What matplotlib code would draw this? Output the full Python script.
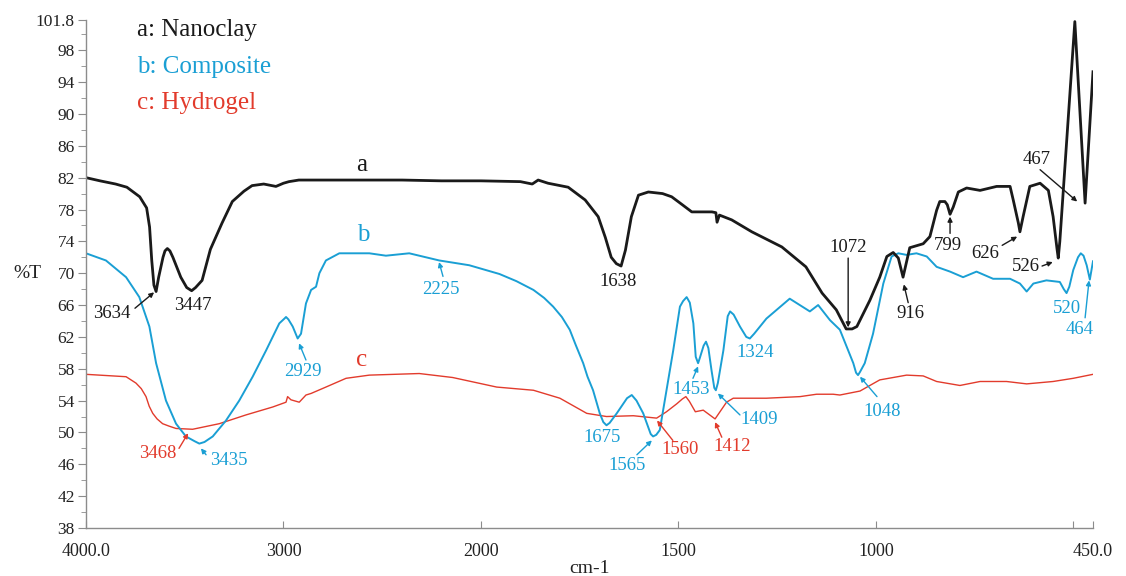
import numpy as np
import matplotlib
matplotlib.use("Agg")
import matplotlib.pyplot as plt
from matplotlib.ticker import FixedLocator, FixedFormatter

plt.rcParams["font.family"] = ["Liberation Serif", "DejaVu Serif"]

BLACK = "#1a1a1a"
BLUE = "#1a9fd4"
RED = "#e23b2c"

# a: Nanoclay  (wavenumber cm-1, %T)
wn_a = [4000, 3929, 3850, 3793, 3728, 3693, 3678, 3667, 3656, 3645, 3632, 3610,
        3600, 3588, 3575, 3560, 3520, 3490, 3465, 3445, 3412, 3370, 3311, 3259,
        3200, 3159, 3100, 3038, 3000, 2972, 2922, 2800, 2600, 2400, 2200, 2000,
        1900, 1870, 1855, 1830, 1779, 1736, 1703, 1685, 1670, 1657, 1645, 1634,
        1619, 1601, 1576, 1540, 1517, 1490, 1466, 1415, 1405, 1402, 1396, 1365,
        1314, 1238, 1177, 1136, 1100, 1075, 1060, 1048, 1015, 990, 972, 956, 943,
        931, 914, 880, 863, 846, 838, 825, 819, 812, 804, 791, 770, 736, 694, 660,
        652, 639, 635, 627, 610, 584, 563, 551, 541, 538, 534, 496, 470, 450]
t_a = [82.0, 81.6, 81.2, 80.8, 79.6, 78.2, 75.8, 71.6, 68.5, 67.7, 69.5, 72.0,
       72.8, 73.1, 72.8, 72.0, 69.5, 68.2, 67.8, 68.2, 69.1, 73.0, 76.3, 79.0,
       80.3, 81.0, 81.2, 80.9, 81.3, 81.5, 81.7, 81.7, 81.7, 81.7, 81.6, 81.6,
       81.5, 81.2, 81.7, 81.3, 80.8, 79.2, 77.1, 74.5, 72.0, 71.2, 70.9, 72.9,
       77.1, 79.8, 80.2, 80.0, 79.6, 78.6, 77.7, 77.7, 77.6, 76.4, 77.3, 76.7,
       75.2, 73.3, 70.8, 67.5, 65.4, 63.0, 63.0, 63.3, 66.6, 69.5, 72.1, 72.6, 71.9,
       69.5, 73.2, 73.7, 74.6, 77.9, 79.0, 79.0, 78.6, 77.4, 78.3, 80.2, 80.7, 80.4,
       80.9, 80.9, 79.2, 76.3, 75.2, 77.1, 80.9, 81.3, 80.4, 77.1, 73.0, 71.9, 74.0,
       101.6, 78.8, 95.3]

# b: Composite
wn_b = [4000, 3899, 3797, 3730, 3679, 3645, 3595, 3544, 3494, 3450, 3426, 3400,
        3358, 3291, 3224, 3156, 3088, 3021, 2995, 2987, 2975, 2953, 2928, 2911,
        2886, 2860, 2835, 2818, 2785, 2717, 2565, 2481, 2363, 2211, 2059, 1953,
        1910, 1867, 1840, 1817, 1795, 1775, 1760, 1741, 1730, 1716, 1699, 1690,
        1682, 1674, 1656, 1630, 1618, 1606, 1589, 1570, 1564, 1556, 1547, 1530,
        1513, 1496, 1488, 1479, 1471, 1462, 1456, 1450, 1446, 1436, 1430, 1424,
        1416, 1409, 1405, 1400, 1386, 1375, 1369, 1360, 1344, 1328, 1319, 1308,
        1277, 1218, 1167, 1146, 1116, 1091, 1074, 1057, 1050, 1045, 1040, 1028,
        1007, 981, 960, 943, 922, 897, 871, 846, 812, 779, 745, 703, 660, 635,
        618, 601, 568, 534, 524, 517, 510, 500, 488, 481, 474, 466, 458, 450]
t_b = [72.5, 71.6, 69.5, 67.0, 63.3, 58.7, 54.0, 51.1, 49.5, 48.9, 48.6, 48.8,
       49.5, 51.5, 54.0, 57.0, 60.3, 63.7, 64.3, 64.5, 64.2, 63.3, 61.8, 62.4,
       66.2, 67.9, 68.3, 70.0, 71.6, 72.5, 72.5, 72.2, 72.5, 71.6, 71.0, 69.9,
       69.0, 67.9, 66.9, 65.8, 64.5, 62.9, 61.0, 58.7, 57.0, 55.3, 52.4, 51.3,
       50.9, 51.2, 52.4, 54.3, 54.7, 54.0, 52.4, 49.8, 49.5, 49.7, 50.3, 55.3,
       60.3, 65.8, 66.5, 67.0, 66.3, 63.7, 59.5, 58.7, 59.3, 60.9, 61.4, 60.6,
       57.8, 55.6, 55.3, 56.2, 60.3, 64.6, 65.2, 64.8, 63.3, 62.0, 61.8, 62.4,
       64.3, 66.8, 65.2, 66.0, 64.1, 62.9, 60.8, 58.7, 57.5, 57.2, 57.6, 58.7,
       62.4, 68.7, 72.1, 72.5, 72.3, 72.5, 72.1, 70.8, 70.2, 69.5, 70.2, 69.3, 69.3, 68.7,
       67.7, 68.7, 69.1, 68.9, 68.0, 67.5, 68.3, 70.4, 72.0, 72.5, 72.2, 71.0, 69.2, 71.5]

# c: Hydrogel
wn_c = [4000, 3797, 3747, 3720, 3696, 3680, 3662, 3640, 3612, 3580, 3544, 3460,
        3325, 3190, 3054, 2987, 2979, 2962, 2920, 2886, 2860, 2785, 2683, 2565,
        2312, 2143, 1960, 1867, 1800, 1732, 1682, 1614, 1555, 1530, 1504, 1490,
        1481, 1472, 1457, 1437, 1407, 1378, 1361, 1277, 1192, 1150, 1108, 1091,
        1040, 990, 922, 880, 846, 787, 736, 669, 618, 551, 500, 450]
t_c = [57.3, 57.0, 56.2, 55.5, 54.5, 53.3, 52.4, 51.7, 51.1, 50.8, 50.5, 50.4,
       51.1, 52.2, 53.2, 53.8, 54.5, 54.1, 53.8, 54.7, 54.9, 55.7, 56.8, 57.2,
       57.4, 56.9, 55.7, 55.3, 54.3, 52.4, 52.0, 52.1, 51.8, 52.6, 53.6, 54.2,
       54.5, 53.9, 52.6, 52.8, 51.7, 53.8, 54.3, 54.3, 54.5, 54.8, 54.8, 54.7,
       55.2, 56.6, 57.2, 57.1, 56.4, 55.9, 56.4, 56.4, 56.1, 56.4, 56.8, 57.3]

# peak labels: (text, text_xy, arrow_tail, arrow_tip or None, colour)
peaks = [
    ("3634", (3868, 65.0), (3752, 65.6), (3655, 67.6), BLACK),
    ("3447", (3458, 66.0), None, None, BLACK),
    ("1638", (1653, 68.9), None, None, BLACK),
    ("1072", (1070, 73.2), (1070, 71.9), (1070, 63.2), BLACK),
    ("916", (913, 64.9), (918, 66.3), (929, 68.6), BLACK),
    ("799", (817, 73.5), (812, 75.0), (812, 77.1), BLACK),
    ("626", (723, 72.5), (680, 73.5), (642, 74.6), BLACK),
    ("526", (620, 70.9), (579, 70.9), (552, 71.4), BLACK),
    ("467", (592, 84.3), (584, 83.0), (490, 79.0), BLACK),
    ("2225", (2202, 67.9), (2192, 69.6), (2212, 71.4), BLUE),
    ("2929", (2901, 57.7), (2886, 59.1), (2921, 61.2), BLUE),
    ("3435", (3276, 46.5), (3392, 47.2), (3418, 48.0), BLUE),
    ("1675", (1693, 49.4), None, None, BLUE),
    ("1565", (1630, 45.9), (1605, 47.2), (1567, 49.0), BLUE),
    ("1453", (1468, 55.4), (1463, 56.8), (1450, 58.3), BLUE),
    ("1409", (1296, 51.6), (1344, 52.2), (1400, 54.9), BLUE),
    ("1324", (1306, 60.1), None, None, BLUE),
    ("1048", (985, 52.6), (997, 54.5), (1040, 57.0), BLUE),
    ("520", (516, 65.6), None, None, BLUE),
    ("464", (483, 62.9), (470, 64.4), (460, 69.1), BLUE),
    ("3468", (3635, 47.3), (3529, 48.0), (3483, 49.9), RED),
    ("1560", (1496, 47.8), (1514, 49.0), (1554, 51.5), RED),
    ("1412", (1364, 48.2), (1390, 49.4), (1407, 51.3), RED),
]


def fwd(x):
    x = np.asarray(x, float)
    return np.where(x >= 2000, x, 2 * x - 2000)


def inv(u):
    u = np.asarray(u, float)
    return np.where(u >= 2000, u, (u + 2000) / 2)


fig = plt.figure(figsize=(11.26, 5.76), dpi=100)
ax = fig.add_axes([86 / 1126, 48 / 576, 1007 / 1126, 508 / 576])
ax.set_xscale("function", functions=(fwd, inv))

ax.plot(wn_c, t_c, color=RED, lw=1.0)
ax.plot(wn_b, t_b, color=BLUE, lw=1.4)
ax.plot(wn_a, t_a, color=BLACK, lw=2.0)

ax.set_xlim(4000, 450)
ax.set_ylim(38, 101.8)

for s in ("top", "right"):
    ax.spines[s].set_visible(False)
for s in ("left", "bottom"):
    ax.spines[s].set_color("#8c8c8c")
    ax.spines[s].set_linewidth(1.0)

xt = [4000, 3000, 2000, 1500, 1000, 500, 450]
xl = ["4000.0", "3000", "2000", "1500", "1000", "", "450.0"]
ax.xaxis.set_major_locator(FixedLocator(xt))
ax.xaxis.set_major_formatter(FixedFormatter(xl))
ax.xaxis.set_minor_locator(FixedLocator([]))
yt = list(range(38, 99, 4)) + [101.8]
ax.yaxis.set_major_locator(FixedLocator(yt))
ax.yaxis.set_major_formatter(FixedFormatter([str(v) for v in yt[:-1]] + ["101.8"]))
ax.yaxis.set_minor_locator(FixedLocator(list(range(40, 101, 4))))
ax.tick_params(axis="x", direction="in", length=5, color="#8c8c8c",
               labelsize=13, labelcolor="#222222", pad=11)
ax.tick_params(axis="y", which="major", direction="out", length=6, color="#8c8c8c",
               labelsize=12.5, labelcolor="#222222", pad=2)
ax.tick_params(axis="y", which="minor", direction="out", length=3.5, color="#8c8c8c")

ax.set_ylabel("%T", rotation=0, fontsize=14, color="#222222", va="center", ha="center")
ax.yaxis.set_label_coords(-0.058, 0.5)
ax.set_xlabel("cm-1", fontsize=14, color="#222222", va="center")
ax.xaxis.set_label_coords(0.5, -0.08)

# legend-like captions
ax.text(3742, 100.5, "a: Nanoclay", color=BLACK, fontsize=18, va="center")
ax.text(3742, 95.9, "b: Composite", color=BLUE, fontsize=18, va="center")
ax.text(3742, 91.4, "c: Hydrogel", color=RED, fontsize=18, va="center")

# curve letters
ax.text(2602, 83.6, "a", color=BLACK, fontsize=18, ha="center", va="center")
ax.text(2597, 74.8, "b", color=BLUE, fontsize=18, ha="center", va="center")
ax.text(2602, 59.1, "c", color=RED, fontsize=18, ha="center", va="center")

for label, txy, tail, tip, col in peaks:
    ax.text(txy[0], txy[1], label, color=col, fontsize=13.5, ha="center", va="center")
    if tip is not None:
        ax.annotate("", xy=tip, xytext=tail,
                    arrowprops=dict(arrowstyle="-|>", color=col, lw=1.0,
                                    mutation_scale=7, shrinkA=0, shrinkB=0))

fig.savefig("out.png", dpi=100)
